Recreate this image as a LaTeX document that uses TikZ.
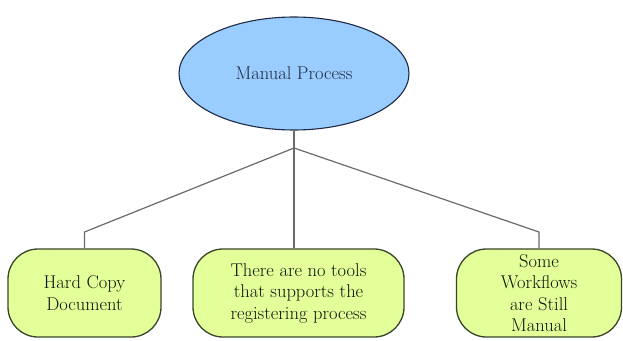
\documentclass[tikz,border=0pt]{standalone}
\usepackage{fontspec}
\usetikzlibrary{shapes.geometric}
\definecolor{rootfill}{HTML}{99CCFF}
\definecolor{rootdraw}{HTML}{1F2A44}
\definecolor{boxfill}{HTML}{E2FF99}
\definecolor{boxdraw}{HTML}{3A4428}
\definecolor{linkcol}{HTML}{6A6A6A}
\definecolor{txtcol}{HTML}{10140A}
\tikzset{
  rootnode/.style={ellipse, draw=rootdraw, fill=rootfill, line width=1.1pt,
    minimum width=230pt, minimum height=113pt, inner sep=0pt,
    font=\fontsize{18.5}{21}\selectfont, text=rootdraw},
  leafbox/.style={rectangle, rounded corners=30pt, draw=boxdraw, fill=boxfill,
    line width=1.3pt, minimum height=88pt, inner sep=0pt, align=center,
    font=\fontsize{18.5}{21.5}\selectfont, text=txtcol},
  link/.style={draw=linkcol, line width=1.2pt}
}
\begin{document}
\begin{tikzpicture}[x=1pt,y=-1pt]
\useasboundingbox (0,0) rectangle (623,340);
\node[rootnode] (root) at (294,73.5) {Manual Process};
\node[leafbox, minimum width=153pt] (b1) at (84.5,293) {Hard Copy\\Document};
\node[leafbox, minimum width=211pt] (b2) at (298.5,293) {There are no tools\\that supports the\\registering process};
\node[leafbox, minimum width=165pt] (b3) at (539,293) {Some\\Workflows\\are Still\\Manual};
\coordinate (j) at (294,148);
\coordinate (bl) at (84.5,232);
\coordinate (br) at (539,232);
\draw[link] (root.south) -- (j);
\draw[link] (j) -- (bl) -- (b1.north);
\draw[link] (j) -- (j |- b2.north);
\draw[link] (j) -- (br) -- (b3.north);
\end{tikzpicture}
\end{document}
